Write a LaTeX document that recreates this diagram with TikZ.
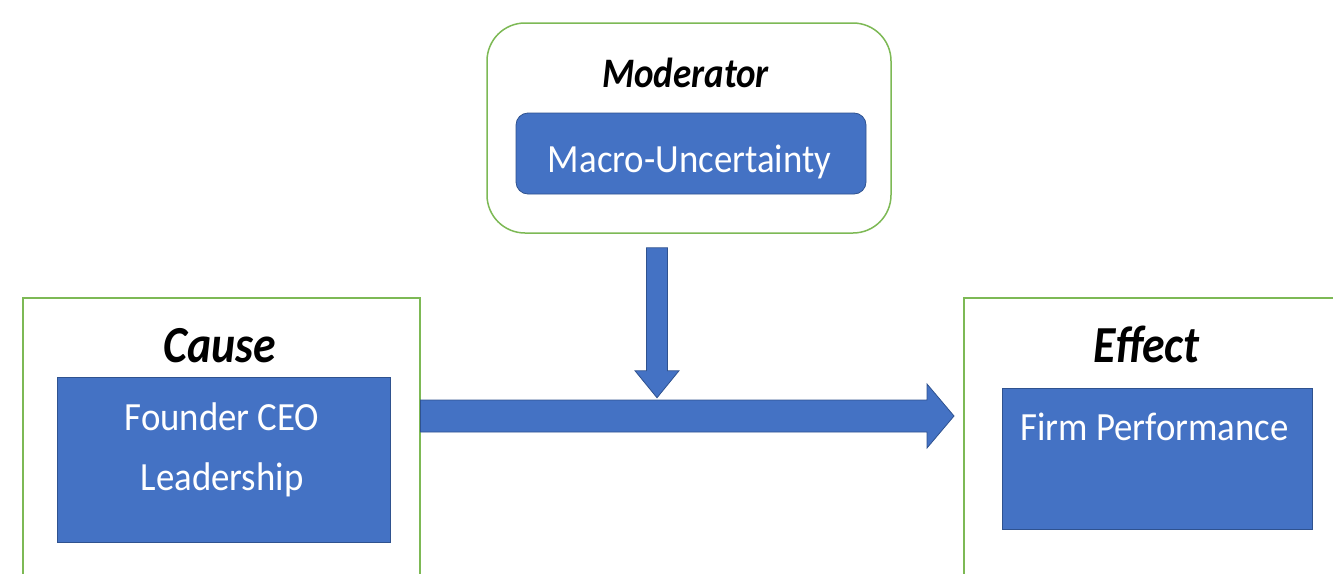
\documentclass[tikz,border=0pt]{standalone}
\usepackage{fontspec}
\setmainfont[FakeStretch=0.88]{Carlito}
\newfontfamily\bodyfont[FakeStretch=0.92]{Carlito}
\usetikzlibrary{calc}
\definecolor{frameGreen}{RGB}{125,185,85}
\definecolor{boxBlue}{RGB}{68,114,196}
\definecolor{boxEdge}{RGB}{47,82,143}
\tikzset{
  frame/.style={draw=frameGreen, line width=1.5pt, fill=white, inner sep=0pt},
  bluebox/.style={draw=boxEdge, line width=0.8pt, fill=boxBlue, inner sep=0pt},
  fatarrow/.style={draw=boxEdge, line width=0.8pt, fill=boxBlue},
  bigtitle/.style={font=\fontsize{52}{60}\selectfont\bfseries\itshape, inner sep=0pt, anchor=base},
  modtitle/.style={font=\fontsize{42}{50}\selectfont\bfseries\itshape, inner sep=0pt, anchor=base},
  bodytext/.style={font=\bodyfont\fontsize{40}{48}\selectfont, text=white, inner sep=0pt, anchor=base}
}
\begin{document}
\begin{tikzpicture}[x=1pt,y=-1pt]
\path[use as bounding box] (0,0) rectangle (1333,573);
\clip (0,0) rectangle (1333,573);
% frames
\node[frame, rounded corners=38pt, minimum width=404pt, minimum height=210pt] (modframe) at (689,128) {};
\node[bluebox, rounded corners=12pt, minimum width=350pt, minimum height=81pt] (macro) at (691,153.5) {};
\node[frame, minimum width=397pt, minimum height=330pt, anchor=north west] (causeframe) at (22,297) {};
\node[frame, minimum width=400pt, minimum height=330pt, anchor=north west] (effectframe) at (963,297) {};
\node[bluebox, minimum width=333pt, minimum height=165pt] (founder) at (223.5,459.5) {};
\node[bluebox, minimum width=310pt, minimum height=141pt] (firm) at (1157,458.5) {};
% texts
\node[modtitle] (modlabel) at (685.5,87) {Moderator};
\node[bodytext] (macrotext) at (689.5,172) {Macro-Uncertainty};
\node[bigtitle] (causelabel) at (220,362) {Cause};
\node[bodytext] (founder1) at (222,430) {Founder CEO};
\node[bodytext] (founder2) at (222,490) {Leadership};
\node[bigtitle] (effectlabel) at (1146.5,362) {Effect};
\node[bodytext] (firmtext) at (1154.5,440) {Firm Performance};
% horizontal arrow: cause -> effect
\path (causeframe.north east) ++(0,119) coordinate (hs);
\path (effectframe.north west) ++(-9,119) coordinate (he);
\draw[fatarrow] ($(hs)+(0,-16)$) -- ($(he)+(-27,-16)$) -- ($(he)+(-27,-32)$) -- (he)
  -- ($(he)+(-27,32)$) -- ($(he)+(-27,16)$) -- ($(hs)+(0,16)$) -- cycle;
% vertical arrow: moderator -> main arrow
\path (modframe.south) ++(-32,14) coordinate (vs);
\path (vs) ++(0,150) coordinate (ve);
\draw[fatarrow] ($(vs)+(-10.5,0)$) -- ($(vs)+(-10.5,123)$) -- ($(vs)+(-22,123)$) -- (ve)
  -- ($(vs)+(22,123)$) -- ($(vs)+(10.5,123)$) -- ($(vs)+(10.5,0)$) -- cycle;
\end{tikzpicture}
\end{document}
